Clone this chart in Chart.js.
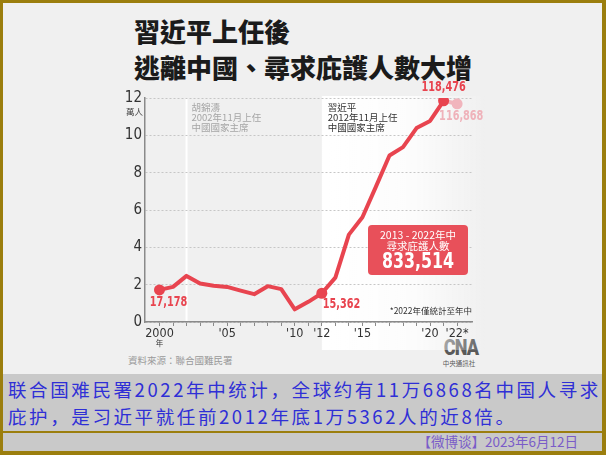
<!DOCTYPE html>
<html>
<head>
<meta charset="utf-8">
<script src="https://cdn.jsdelivr.net/npm/chart.js@4"></script>
<style>
  body { margin: 0; background: #9b7e0e; }
  #wrap { position: relative; width: 606px; height: 455px; background: #9b7e0e; overflow: hidden; }
  .box { position: absolute; }
  #info { left: 3px; top: 3px; width: 599px; height: 371px; background: #f0f0f0; }
  #cap { left: 3px; top: 374px; width: 599px; height: 57px; background: #c9c9c9; }
  #daterow { left: 3px; top: 433px; width: 599px; height: 18px; background: #c9c9c9; }
  .title { position: absolute; left: 134px; font-family: "Noto Sans CJK TC", sans-serif; font-weight: 900;
           font-size: 26px; line-height: 30px; color: #1b1b1b; white-space: nowrap; }
  .captxt { position: absolute; left: 8px; font-family: "Noto Sans CJK SC", sans-serif; font-size: 18.5px;
            letter-spacing: 2.6px; line-height: 27px; color: #2f2fd6; white-space: nowrap; }
  #date { position: absolute; right: 28px; top: 432px; font-family: "Noto Sans CJK SC", sans-serif;
          font-size: 13.5px; line-height: 18px; color: #7a5cc8; white-space: nowrap; }
  #src { position: absolute; left: 128px; top: 353px; font-family: "Noto Sans CJK TC", sans-serif;
         font-size: 9.5px; line-height: 14px; color: #9a9a9a; white-space: nowrap; }
  #logo { position: absolute; left: 440px; top: 338px; width: 38px; text-align: center; color: #5a5a5a; }
  #logo .m { font-family: Roboto, sans-serif; font-weight: 900; font-size: 22px; line-height: 20px;
             display: inline-block; transform: scaleX(0.82); letter-spacing: -1px; }
  #logo .s { font-family: "Noto Sans CJK TC", sans-serif; font-size: 6.5px; line-height: 8px; }
  canvas { position: absolute; left: 0; top: 0; }
</style>
</head>
<body>
<div id="wrap">
  <div class="box" id="info"></div>
  <div class="box" id="cap"></div>
  <div class="box" id="daterow"></div>
  <div class="title" style="top:16px">習近平上任後</div>
  <div class="title" style="top:52px">逃離中國、尋求庇護人數大增</div>
  <div id="src">資料來源：聯合國難民署</div>
  <div id="logo"><div class="m">CNA</div><div class="s">中央通訊社</div></div>
  <div class="captxt" style="top:376px">联合国难民署2022年中统计，全球约有11万6868名中国人寻求</div>
  <div class="captxt" style="top:403px">庇护，是习近平就任前2012年底1万5362人的近8倍。</div>
  <div id="date">【微博谈】2023年6月12日</div>
  <canvas id="grafico" width="606" height="455"></canvas>
</div>
<script>
// dados (万人)
const anos = [2000, 2001, 2002, 2003, 2004, 2005, 2006, 2007, 2008, 2009, 2010,
              2011, 2012, 2013, 2014, 2015, 2016, 2017, 2018, 2019, 2020, 2021];
const valores = [1.72, 1.88, 2.47, 2.06, 1.94, 1.88, 1.68, 1.49, 1.92, 1.76, 0.68,
                 1.08, 1.54, 2.38, 4.68, 5.61, 7.25, 8.92, 9.37, 10.39, 10.77, 11.85];
const anos2022 = [2021, 2022];
const valores2022 = [11.85, 11.69];
const destaques = [2000, 2012, 2021];
const rotulosX = { 2000: '2000', 2005: "'05", 2010: "'10", 2012: "'12", 2015: "'15", 2020: "'20", 2022: "'22*" };
const rotulosPontos = [
  { ano: 2000, valor: 1.72, texto: '17,178', dx: 9, dy: 12.5, align: 'center', cor: '#e8444f' },
  { ano: 2012, valor: 1.54, texto: '15,362', dx: 1, dy: 11, align: 'left', cor: '#e8444f' },
  { ano: 2021, valor: 11.85, texto: '118,476', dx: 0, dy: -13, align: 'center', cor: '#e8444f' },
  { ano: 2022, valor: 11.69, texto: '116,868', dx: -18, dy: 13, align: 'left', cor: '#efb2ba' }
];
const totalPeriodo = '833,514';

const numFont = "'Liberation Sans Narrow', 'DejaVu Sans Condensed', Roboto, sans-serif";
const cjkFont = "'Noto Sans CJK TC', sans-serif";

// texto condensado (fonte estreita)
function textoEstreito(ctx, texto, x, y, sx) {
  ctx.save();
  ctx.translate(x, y);
  ctx.scale(sx, 1);
  ctx.fillText(texto, 0, 0);
  ctx.restore();
}

const decoracao = {
  id: 'decoracao',
  beforeDraw(chart) {
    const { ctx, chartArea: a, scales: { x } } = chart;
    ctx.save();
    // fundo branco a partir de 2012
    const x12 = x.getPixelForValue(2012);
    const g = ctx.createLinearGradient(x12, 0, a.right + 15, 0);
    g.addColorStop(0, 'rgba(255,255,255,1)');
    g.addColorStop(0.55, 'rgba(255,255,255,0.8)');
    g.addColorStop(1, 'rgba(255,255,255,0)');
    ctx.fillStyle = g;
    ctx.fillRect(x12, a.top - 2, a.right + 15 - x12, a.bottom - a.top + 30);
    // linha branca 2002
    const x02 = x.getPixelForValue(2002);
    ctx.fillStyle = '#ffffff';
    ctx.fillRect(x02 - 1, a.top, 2, a.bottom - a.top);
    ctx.restore();
  },
  afterDatasetsDraw(chart) {
    const { ctx, chartArea: a, scales: { x, y } } = chart;
    ctx.save();
    ctx.textBaseline = 'middle';

    // 萬人
    ctx.fillStyle = '#444';
    ctx.font = '8.5px ' + cjkFont;
    ctx.textAlign = 'right';
    ctx.fillText('萬人', a.left - 2, a.top + 14);

    // 年 under 2000
    ctx.textAlign = 'center';
    ctx.font = '7.5px ' + cjkFont;
    ctx.fillStyle = '#333';
    ctx.fillText('年', x.getPixelForValue(2000), a.bottom + 21);

    // anotações presidentes
    ctx.textAlign = 'left';
    ctx.font = '9.5px ' + cjkFont;
    ctx.fillStyle = '#a5a5a5';
    const xh = x.getPixelForValue(2002) + 5;
    ['胡錦濤', '2002年11月上任', '中國國家主席'].forEach((t, i) => ctx.fillText(t, xh, a.top + 9 + i * 10));
    ctx.fillStyle = '#333';
    const xx = x.getPixelForValue(2012) + 6;
    ['習近平', '2012年11月上任', '中國國家主席'].forEach((t, i) => ctx.fillText(t, xx, a.top + 9 + i * 10));

    // rótulos dos pontos
    ctx.font = "bold 13.5px " + numFont;
    rotulosPontos.forEach(r => {
      ctx.fillStyle = r.cor;
      ctx.textAlign = r.align;
      textoEstreito(ctx, r.texto, x.getPixelForValue(r.ano) + r.dx, y.getPixelForValue(r.valor) + r.dy, 0.8);
    });

    // caixa vermelha
    const bx = a.left + 223, by = a.top + 127, bw = 100, bh = 50;
    ctx.fillStyle = '#e8505a';
    ctx.beginPath();
    ctx.roundRect(bx, by, bw, bh, 4);
    ctx.fill();
    ctx.fillStyle = '#fff';
    ctx.textAlign = 'center';
    ctx.font = '10.5px ' + cjkFont;
    ctx.fillText('2013 - 2022年中', bx + bw / 2, by + 10);
    ctx.fillText('尋求庇護人數', bx + bw / 2, by + 21);
    ctx.font = 'bold 22px ' + numFont;
    textoEstreito(ctx, totalPeriodo, bx + bw / 2, by + 37, 0.8);

    // nota
    ctx.textAlign = 'right';
    ctx.fillStyle = '#333';
    ctx.font = '8.5px ' + cjkFont;
    ctx.fillText('*2022年僅統計至年中', a.right, a.bottom - 11);
    ctx.restore();
  }
};

const ctx = document.getElementById('grafico').getContext('2d');

new Chart(ctx, {
  type: 'line',
  data: {
    datasets: [{
      label: '尋求庇護人數',
      data: anos.map((a, i) => ({ x: a, y: valores[i] })),
      borderColor: '#e8444f',
      backgroundColor: '#e8444f',
      borderWidth: 4,
      borderJoinStyle: 'round',
      borderCapStyle: 'round',
      tension: 0,
      pointRadius: c => destaques.includes(anos[c.dataIndex]) ? 5.5 : 0,
      pointBorderWidth: 0,
      order: 1
    }, {
      label: '2022',
      data: anos2022.map((a, i) => ({ x: a, y: valores2022[i] })),
      borderColor: '#f1b5bd',
      backgroundColor: '#f1b5bd',
      borderWidth: 4,
      borderCapStyle: 'round',
      pointRadius: [0, 5.5],
      pointBorderWidth: 0,
      order: 2
    }]
  },
  options: {
    responsive: false,
    animation: false,
    devicePixelRatio: 1,
    layout: { padding: { top: 98, right: 134, bottom: 0, left: 0 } },
    plugins: { legend: { display: false }, tooltip: { enabled: false } },
    scales: {
      x: {
        type: 'linear',
        min: 1998.93,
        max: 2023.1,
        afterFit: s => { s.height = 133; },
        afterBuildTicks: s => { s.ticks = anos.concat([2022]).map(v => ({ value: v })); },
        grid: { drawOnChartArea: false, drawTicks: true, tickLength: 4, color: '#8a8a8a', lineWidth: 1 },
        border: { display: true, color: '#8a8a8a', width: 1.5 },
        ticks: {
          autoSkip: false,
          maxRotation: 0,
          padding: 0,
          color: '#333',
          font: { family: numFont, size: 12.5 },
          callback: v => rotulosX[v] || ''
        }
      },
      y: {
        min: 0,
        max: 12,
        afterFit: s => { s.width = 145; },
        grid: { drawTicks: false, color: '#c6c6c6', lineWidth: 1 },
        border: { display: true, color: '#8a8a8a', width: 1.5, dash: [2, 2] },
        ticks: {
          stepSize: 2,
          padding: 3,
          color: '#333',
          font: { family: numFont, size: 15 }
        }
      }
    }
  },
  plugins: [decoracao]
});
</script>
</body>
</html>
